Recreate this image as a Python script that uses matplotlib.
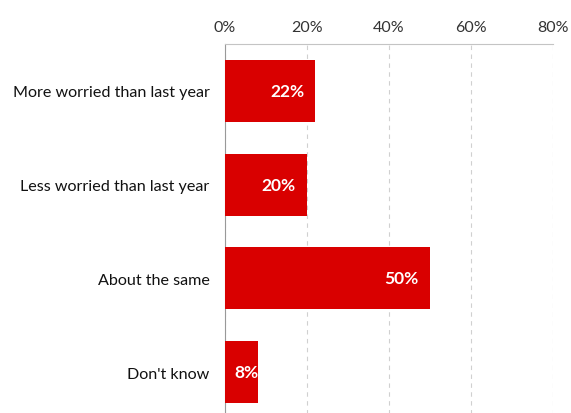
import matplotlib.pyplot as plt
from matplotlib.ticker import FuncFormatter

categories = ['More worried than last year', 'Less worried than last year',
              'About the same', "Don't know"]
values = [22, 20, 50, 8]
xticks = [0, 20, 40, 60, 80]

plt.rcParams['font.family'] = ['Lato', 'DejaVu Sans']

fig = plt.figure(figsize=(5.71, 4.14), dpi=100)
ax = fig.add_axes([0.394, -0.0145, 0.574, 0.9055])

ypos = range(len(categories))
ax.barh(ypos, values, height=0.66, color='#D90000', zorder=3)
for y, v in zip(ypos, values):
    # short bars: label can't fit, so it spills past the bar end
    ax.text(max(v - 2.7, 8.1), y, f'{v}%', ha='right', va='center', color='white',
            fontsize=12.5, fontweight='bold', zorder=4)

ax.set_xlim(0, 80)
ax.set_ylim(len(categories) - 0.5, -0.5)
ax.set_yticks(list(ypos))
ax.set_yticklabels(categories, fontsize=11.6)
ax.set_xticks(xticks)
ax.xaxis.set_major_formatter(FuncFormatter(lambda x, p: f'{x:.0f}%'))
ax.xaxis.tick_top()
ax.tick_params(axis='x', length=0, pad=7, labelsize=11.5, colors='#333333')
ax.tick_params(axis='y', length=0, pad=11, colors='#111111')
ax.grid(axis='x', linestyle=(0, (4, 4)), color='#d0d0d0', linewidth=0.8, zorder=0)

for s in ['right', 'bottom']:
    ax.spines[s].set_visible(False)
ax.spines['top'].set_color('#c4c4c4')
ax.spines['left'].set_color('#999999')

fig.savefig('out.png', dpi=100)
